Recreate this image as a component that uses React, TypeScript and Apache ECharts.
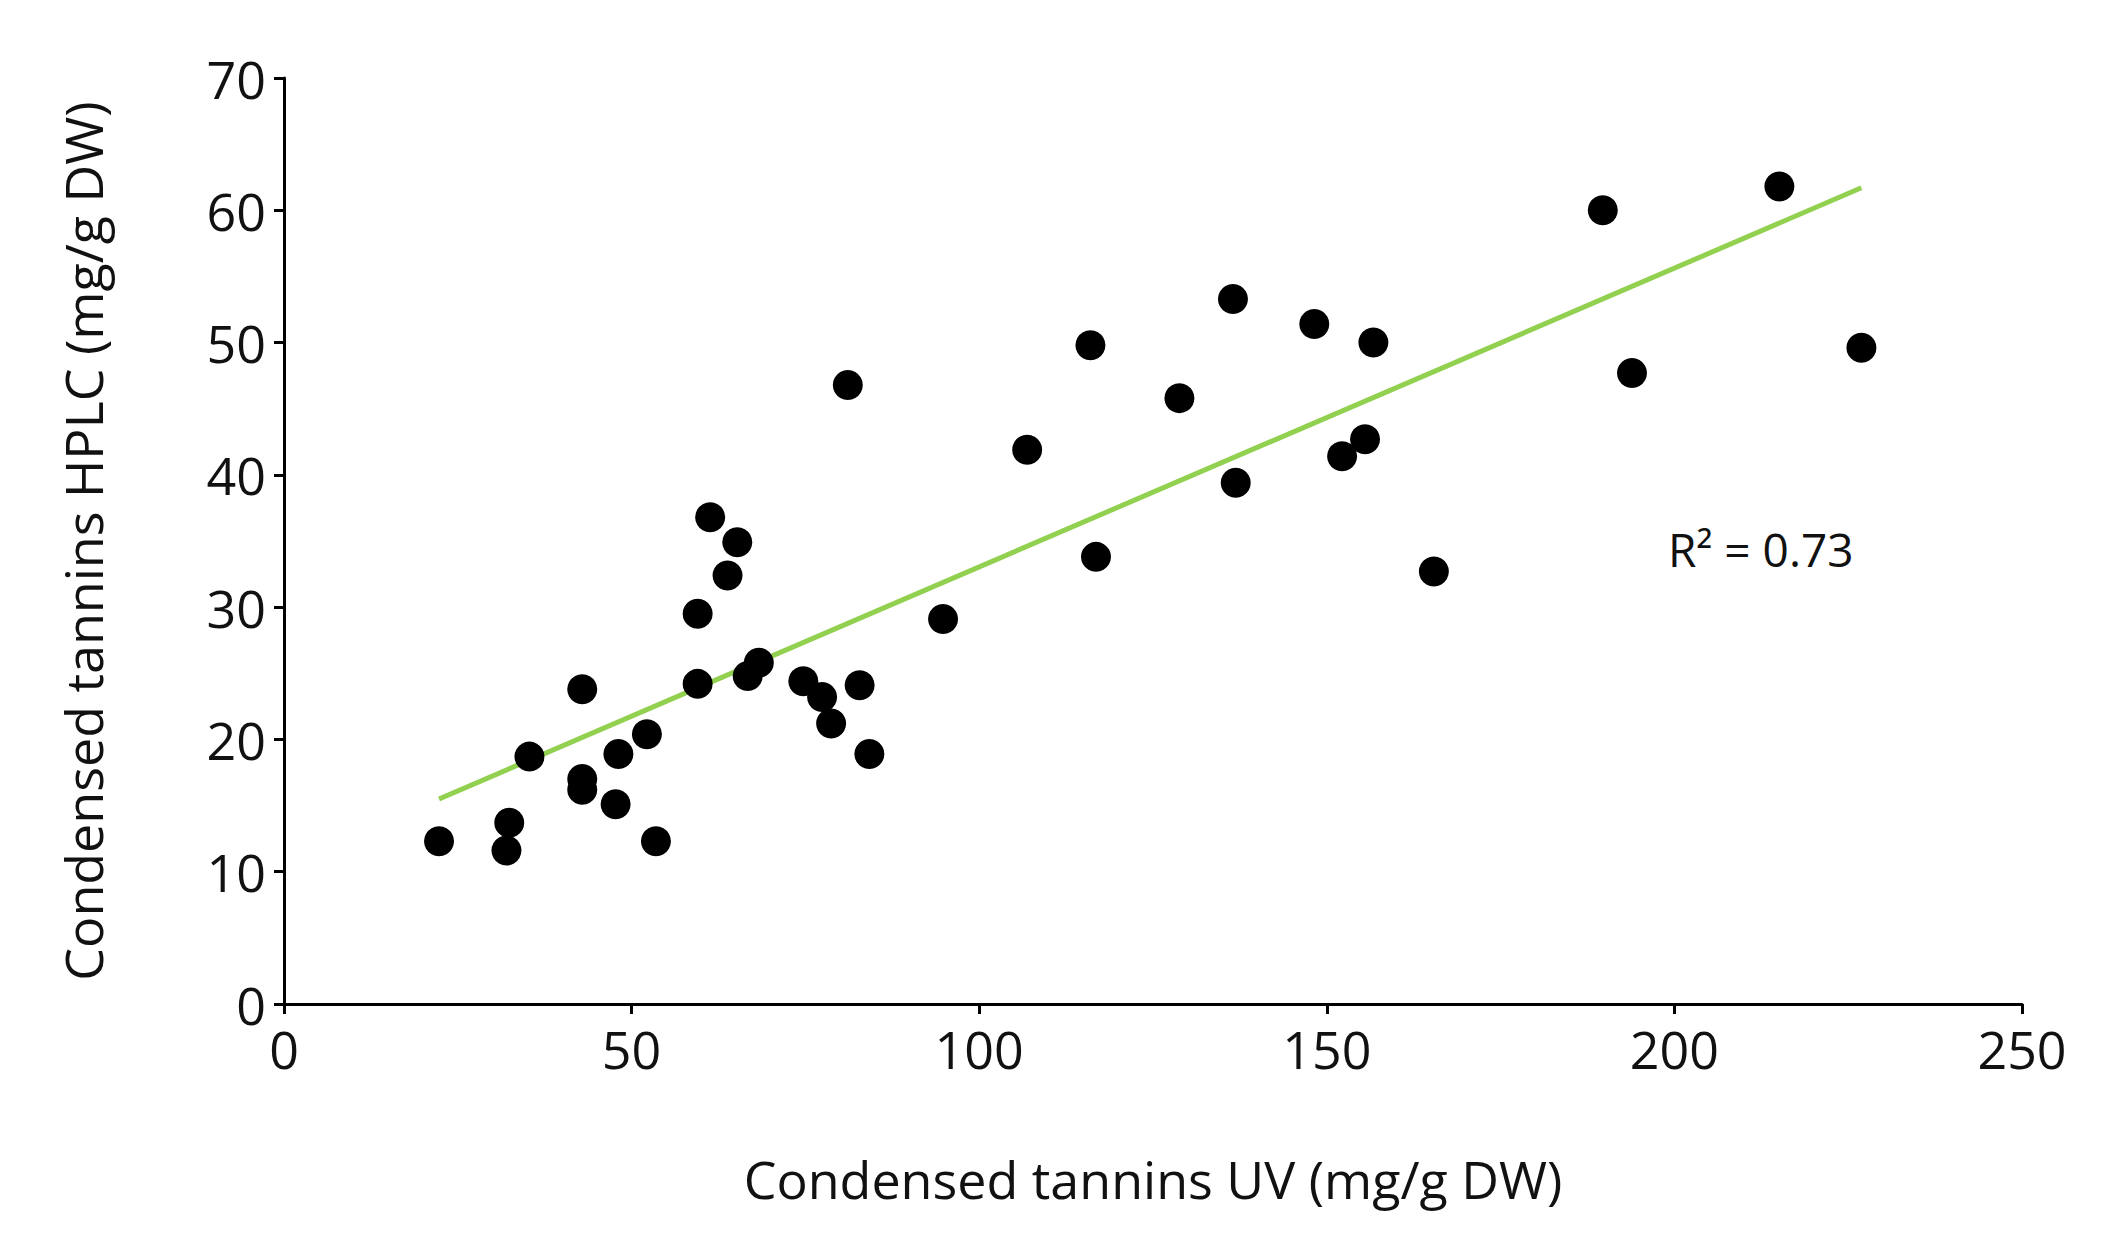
import React, { useEffect, useRef } from "react";
import * as echarts from "echarts";

const xValues = [22.3, 32, 32.4, 35.3, 42.9, 42.9, 42.9, 48.1, 47.7, 52.2, 53.5, 59.5, 59.5, 61.3, 63.8, 65.2, 66.7, 68.3, 74.7, 77.4, 78.7, 82.8, 81.1, 84.2, 94.8, 106.9, 116, 116.8, 128.8, 136.5, 136.9, 148.2, 152.2, 155.5, 156.7, 165.4, 189.7, 193.9, 215.1, 226.9];
const yValues = [12.3, 11.6, 13.7, 18.7, 23.8, 17, 16.2, 18.9, 15.1, 20.4, 12.3, 29.5, 24.2, 36.8, 32.4, 34.9, 24.8, 25.8, 24.4, 23.2, 21.2, 24.1, 46.8, 18.9, 29.1, 41.9, 49.8, 33.8, 45.8, 53.3, 39.4, 51.4, 41.4, 42.7, 50, 32.7, 60, 47.7, 61.8, 49.6];
const trendX = [22.3, 226.9];
const trendY = [15.5, 61.7];
const r2Label = "R² = 0.73";

export default function App() {
  const ref = useRef<HTMLDivElement>(null);
  useEffect(() => {
    const chart = echarts.init(ref.current!, null, { renderer: "svg" });
    const font = "'Open Sans', 'Liberation Sans', sans-serif";
    const axisCommon = {
      axisLine: { show: true, lineStyle: { color: "#000", width: 3 } },
      axisTick: { show: true, inside: false, length: 10, lineStyle: { color: "#000", width: 3 } },
      splitLine: { show: false },
      axisLabel: { color: "#111", fontSize: 52, fontFamily: font, margin: 18 },
      nameLocation: "middle" as const,
      nameTextStyle: { color: "#111", fontSize: 52, fontFamily: font },
    };
    chart.setOption({
      animation: false,
      backgroundColor: "#fff",
      grid: { left: 276, right: 73, top: 70, bottom: 226 },
      xAxis: { ...axisCommon, type: "value", min: 0, max: 250, interval: 50, name: "Condensed tannins UV (mg/g DW)", nameGap: 148 },
      yAxis: { ...axisCommon, type: "value", min: 0, max: 70, interval: 10, name: "Condensed tannins HPLC (mg/g DW)", nameGap: 176 },
      series: [
        { type: "line", data: trendX.map((x, i) => [x, trendY[i]]), symbol: "none", lineStyle: { color: "#92d050", width: 5 }, z: 1 },
        { type: "scatter", data: xValues.map((x, i) => [x, yValues[i]]), symbolSize: 30, itemStyle: { color: "#000", opacity: 1 }, z: 2 },
      ],
      graphic: [
        { type: "text", left: 1660, top: 518, style: { text: r2Label, fontSize: 46, fontFamily: font, fill: "#111" } },
      ],
    });
    return () => chart.dispose();
  }, []);
  return <div ref={ref} style={{ width: 2087, height: 1222 }} />;
}
